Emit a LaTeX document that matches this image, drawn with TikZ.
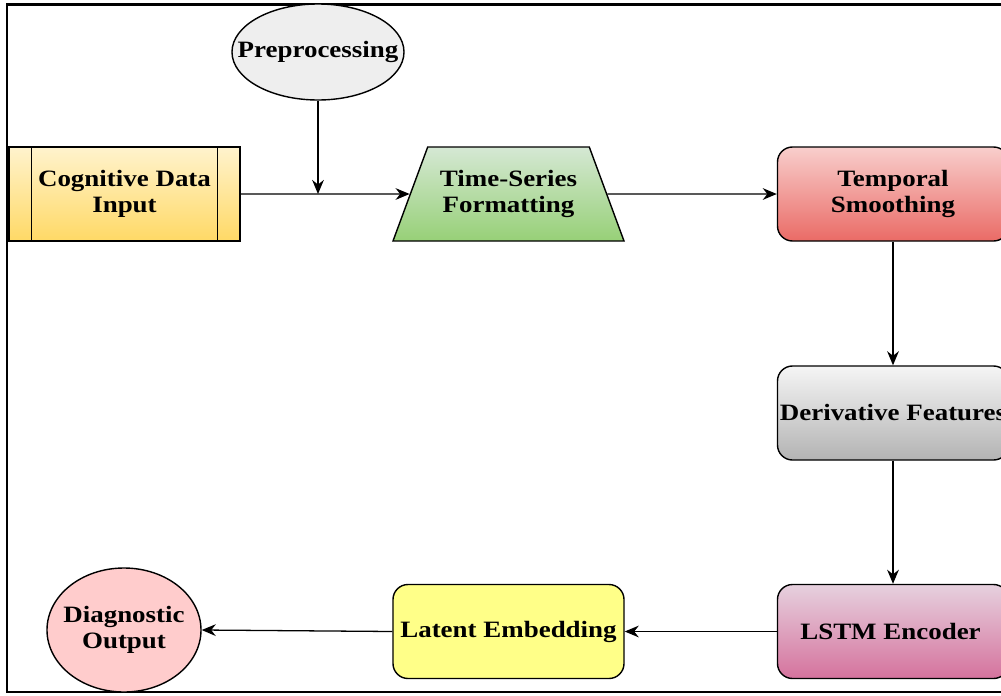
\documentclass[tikz,border=0pt]{standalone}
\usepackage{fontspec}
\setmainfont{Liberation Serif}[FakeStretch=1.15]
\usetikzlibrary{shapes.geometric,arrows.meta}
\tikzset{
  txt/.style={align=center, font=\bfseries\fontsize{20}{22.5}\selectfont, inner sep=0pt},
  box/.style={txt, draw=black, line width=1.2pt, minimum width=6.93cm, minimum height=2.82cm},
  rbox/.style={box, rounded corners=0.45cm},
  ell/.style={draw=black, line width=1.2pt, ellipse, inner sep=0pt},
  link/.style={line width=1.1pt, draw=black},
  arr/.style={link, -{Stealth[length=12pt,width=10pt]}},
}
\begin{document}
\begin{tikzpicture}[x=0.03cm,y=-0.03cm]
\useasboundingbox (0,0) rectangle (1001,695);
\clip (0,0) rectangle (1001,695);
\fill[white] (0,0) rectangle (1001,695);
\draw[line width=1.8pt] (7,4.5) rectangle (1030,692);
% nodes
\node[box, top color={rgb,255:red,255;green,243;blue,205}, bottom color={rgb,255:red,255;green,217;blue,102}] (cog) at (124.5,194) {Cognitive Data\\Input};
\draw[line width=1.2pt] ([xshift=0.69cm]cog.north west) -- ([xshift=0.69cm]cog.south west);
\draw[line width=1.2pt] ([xshift=-0.69cm]cog.north east) -- ([xshift=-0.69cm]cog.south east);
\node[ell, minimum width=5.16cm, minimum height=2.88cm, fill={rgb,255:red,238;green,238;blue,238}] (pre) at (318,52) {};
\node[txt] (pretext) at (pre.center) {Preprocessing};
\node[box, trapezium, trapezium left angle=54, trapezium right angle=54, trapezium stretches body,
  minimum width=6.93cm, top color={rgb,255:red,213;green,232;blue,212}, bottom color={rgb,255:red,151;green,208;blue,119}] (ts) at (508.5,194) {Time-Series\\Formatting};
\node[rbox, top color={rgb,255:red,248;green,206;blue,204}, bottom color={rgb,255:red,234;green,107;blue,102}] (tsm) at (893,194) {Temporal\\Smoothing};
\node[rbox, top color={rgb,255:red,245;green,245;blue,245}, bottom color={rgb,255:red,179;green,179;blue,179}] (der) at (893,413) {Derivative Features};
\node[rbox, top color={rgb,255:red,230;green,208;blue,222}, bottom color={rgb,255:red,213;green,115;blue,157}] (lstm) at (893,631.5) {\hspace*{-0.15cm}LSTM Encoder};
\node[rbox, fill={rgb,255:red,255;green,255;blue,136}] (lat) at (508.5,631.5) {Latent Embedding};
\node[ell, minimum width=4.62cm, minimum height=3.72cm, fill={rgb,255:red,255;green,204;blue,204}] (diag) at (124,630) {};
\node[txt] (diagtext) at (diag.center) {Diagnostic\\Output};
% connectors
\coordinate (j) at (318,194);
\draw[arr] (pre.south) -- (j);
\draw[arr] (cog.east) -- (ts.west);
\draw[arr] (ts.east) -- (tsm.west);
\draw[arr] (tsm.south) -- (der.north);
\draw[arr] (der.south) -- (lstm.north);
\draw[arr] (lstm.west) -- (lat.east);
\draw[arr] (lat.west) -- (diag.east);
\end{tikzpicture}
\end{document}
